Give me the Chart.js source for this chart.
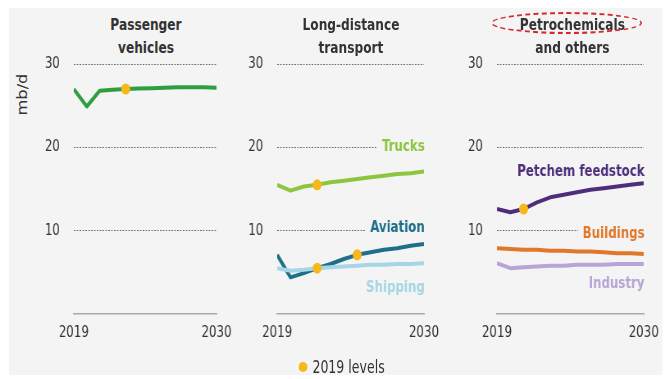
<!DOCTYPE html>
<html>
<head>
<meta charset="utf-8">
<script src="https://cdn.jsdelivr.net/npm/chart.js@4.4.1/dist/chart.umd.min.js"></script>
<style>
  html, body { margin: 0; padding: 0; background: #fff; }
  body { width: 667px; height: 379px; position: relative; overflow: hidden; }
  /* everything is laid out on a wider sheet and squeezed to a narrow look */
  #sheet { position: absolute; left: 0; top: 0; width: 814px; height: 379px;
           transform: scaleX(0.82); transform-origin: 0 0;
           font-family: 'DejaVu Sans Condensed', 'DejaVu Sans', sans-serif; color: #333; }
  #bg { position: absolute; left: 11px; top: 8px; width: 797px; height: 367px; background: #f4f4f4; }
  canvas { position: absolute; }
  .title { position: absolute; width: 240px; text-align: center; font-weight: bold;
           font-size: 16.5px; line-height: 23px; color: #333; }
  #unit { position: absolute; left: 4px; top: 84px; width: 46px; text-align: center;
          font-size: 18px; transform: rotate(-90deg); }
  #ring { position: absolute; left: 599px; top: 12px; width: 180px; height: 18px;
          border: 2.5px dashed #d42a2f; border-radius: 50%; }
  #legend { position: absolute; left: 364px; top: 357px; font-size: 17px; color: #333; }
  #legend .dot { display: inline-block; width: 11px; height: 10px; border-radius: 50%;
                 background: #f6b81a; margin-right: 6px; vertical-align: 1px; }
</style>
</head>
<body>
<div id="sheet">
  <div id="bg"></div>
  <div id="unit">mb/d</div>

  <div class="title" style="left:58px; top:13px;">Passenger<br>vehicles</div>
  <div class="title" style="left:308px; top:13px;">Long-distance<br>transport</div>
  <div class="title" style="left:578px; top:13px;">Petrochemicals<br>and others</div>
  <div id="ring"></div>

  <canvas id="c1" width="274" height="326" style="left:24px; top:34px;"></canvas>
  <canvas id="c2" width="271" height="326" style="left:280px; top:34px;"></canvas>
  <canvas id="c3" width="265" height="326" style="left:548px; top:34px;"></canvas>

  <div id="legend"><span class="dot"></span>2019 levels</div>
</div>

<script>
// years on the x axis
const years = [2019, 2020, 2021, 2022, 2023, 2024, 2025, 2026, 2027, 2028, 2029, 2030];
const yTicks = [10, 20, 30];
const xTicks = [2019, 2030];

// oil demand, mb/d
const passengerVehicles = [27.0, 24.9, 26.8, 26.9, 27.0, 27.05, 27.1, 27.15, 27.2, 27.2, 27.2, 27.15];
const trucks       = [15.5, 14.8, 15.3, 15.5, 15.8, 16.0, 16.2, 16.4, 16.6, 16.8, 16.9, 17.1];
const aviation     = [7.1, 4.4, 4.9, 5.5, 6.0, 6.6, 7.1, 7.4, 7.7, 7.9, 8.2, 8.4];
const shipping     = [5.5, 5.2, 5.3, 5.5, 5.6, 5.7, 5.8, 5.9, 5.9, 6.0, 6.0, 6.1];
const petchem      = [12.6, 12.2, 12.6, 13.4, 14.0, 14.3, 14.6, 14.9, 15.1, 15.3, 15.5, 15.7];
const buildings    = [7.9, 7.8, 7.7, 7.7, 7.6, 7.6, 7.5, 7.5, 7.4, 7.3, 7.3, 7.2];
const industry     = [6.1, 5.5, 5.6, 5.7, 5.8, 5.8, 5.9, 5.9, 5.9, 6.0, 6.0, 6.0];

// year in which each series gets back to its 2019 level (null = no marker)
const backToLevel = {
  passenger: 2023, trucks: 2022, aviation: 2025, shipping: 2022,
  petchem: 2021, buildings: null, industry: null
};

const DOT = '#f6b81a';
const BG = '#f4f4f4';
const FONT = "'DejaVu Sans Condensed', 'DejaVu Sans', sans-serif";

// draws the series names at the right edge, blanking the grid line under them
const seriesLabels = {
  id: 'seriesLabels',
  afterDatasetsDraw(chart, args, opts) {
    const { ctx, chartArea, scales } = chart;
    (opts.items || []).forEach(item => {
      ctx.save();
      ctx.font = 'bold 16px ' + FONT;
      const w = ctx.measureText(item.text).width;
      const x = chartArea.right + 1;
      const y = scales.y.getPixelForValue(item.at);
      ctx.fillStyle = BG;
      ctx.fillRect(x - w - 6, y - 9, w + 7, 18);
      ctx.fillStyle = item.color;
      ctx.textAlign = 'right';
      ctx.textBaseline = 'middle';
      ctx.fillText(item.text, x, y);
      ctx.restore();
    });
  }
};

function makePanel(canvasId, yWidth, rightPad, series, labels) {
  const datasets = [];
  // 2019-level markers sit on top of every line
  const dots = [];
  series.forEach(s => {
    if (s.levelYear) {
      const i = years.indexOf(s.levelYear);
      dots.push({ x: years[i], y: s.values[i] });
    }
  });
  datasets.push({
    type: 'scatter', data: dots, pointRadius: 5.5, pointBackgroundColor: DOT,
    pointBorderWidth: 0, order: -1
  });
  series.forEach(s => {
    datasets.push({
      type: 'line',
      data: s.values.map((v, i) => ({ x: years[i], y: v })),
      borderColor: s.color, borderWidth: 4, pointRadius: 0,
      tension: 0, borderCapStyle: 'butt', borderJoinStyle: 'round'
    });
  });

  return new Chart(document.getElementById(canvasId), {
    data: { datasets },
    plugins: [seriesLabels],
    options: {
      responsive: false,
      animation: false,
      events: [],
      layout: { autoPadding: false, padding: { top: 30, right: rightPad, bottom: 0, left: 0 } },
      plugins: {
        legend: { display: false },
        tooltip: { enabled: false },
        seriesLabels: { items: labels }
      },
      scales: {
        x: {
          type: 'linear', min: years[0], max: years[years.length - 1],
          afterBuildTicks: sc => { sc.ticks = xTicks.map(v => ({ value: v })); },
          afterFit: sc => { sc.height = 46; },
          grid: { display: false, drawTicks: false },
          border: { display: true, color: '#a9a9a9', width: 1.5 },
          ticks: { padding: 9, color: '#333', font: { family: FONT, size: 16 },
                   maxRotation: 0, callback: v => String(v) }
        },
        y: {
          min: 0, max: 30,
          afterBuildTicks: sc => { sc.ticks = yTicks.map(v => ({ value: v })); },
          afterFit: sc => { sc.width = yWidth; },
          grid: { color: '#6f6f6f', lineWidth: 1, drawTicks: false },
          border: { display: false, dash: [2, 1.5] },
          ticks: { padding: 17, color: '#333', font: { family: FONT, size: 16 } }
        }
      }
    }
  });
}

makePanel('c1', 66, 34, [
  { values: passengerVehicles, color: '#2e9e3e', levelYear: backToLevel.passenger }
], []);

makePanel('c2', 58, 34, [
  { values: trucks, color: '#8cc63f', levelYear: backToLevel.trucks },
  { values: shipping, color: '#a6d6e6', levelYear: backToLevel.shipping },
  { values: aviation, color: '#1d6f8a', levelYear: backToLevel.aviation }
], [
  { text: 'Trucks', color: '#8cc63f', at: 20 },
  { text: 'Aviation', color: '#1d6f8a', at: 10.3 },
  { text: 'Shipping', color: '#a6d6e6', at: 3.1 }
]);

makePanel('c3', 58, 28, [
  { values: petchem, color: '#4e2e7c', levelYear: backToLevel.petchem },
  { values: buildings, color: '#e0782a', levelYear: backToLevel.buildings },
  { values: industry, color: '#b8a4d6', levelYear: backToLevel.industry }
], [
  { text: 'Petchem feedstock', color: '#4e2e7c', at: 17.1 },
  { text: 'Buildings', color: '#e0782a', at: 9.6 },
  { text: 'Industry', color: '#b8a4d6', at: 3.6 }
]);
</script>
</body>
</html>
